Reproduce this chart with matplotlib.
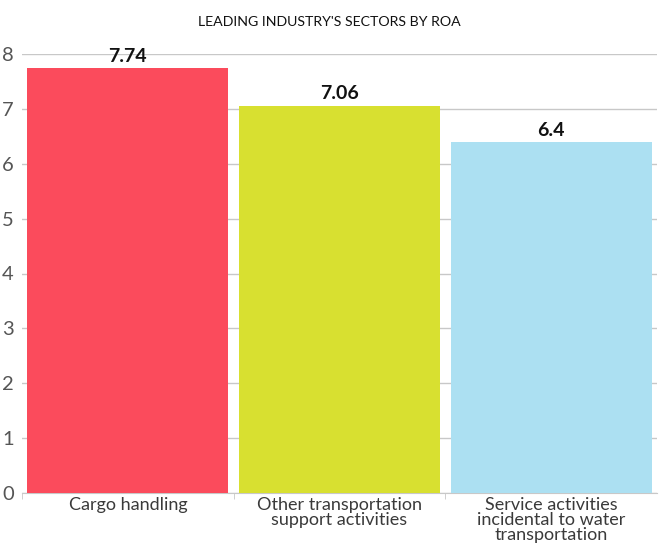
import matplotlib
matplotlib.use("Agg")
import matplotlib.pyplot as plt
import numpy as np

categories = ["Cargo handling",
              "Other transportation\nsupport activities",
              "Service activities\nincidental to water\ntransportation"]
roa = [7.74, 7.06, 6.4]
value_labels = ["7.74", "7.06", "6.4"]
colors = ["#fb4b5c", "#d8e030", "#ace0f2"]
yticks = [0, 1, 2, 3, 4, 5, 6, 7, 8]

plt.rcParams["font.family"] = ["Lato", "DejaVu Sans"]

fig = plt.figure(figsize=(6.59, 5.49), dpi=100)
ax = fig.add_axes((22 / 659, 1 - 493 / 549, 635 / 659, 439 / 549))

x = np.arange(len(categories))
ax.bar(x, roa, width=0.95, color=colors, zorder=3)
for xi, v, lab in zip(x, roa, value_labels):
    ax.text(xi, v + 0.06, lab, ha="center", va="bottom", fontsize=14,
            fontweight="bold", color="#111111", zorder=4, clip_on=False)

ax.set_xlim(-0.5, len(categories) - 0.5)
ax.set_ylim(0, 8)
ax.set_yticks(yticks)
ax.set_yticklabels([str(t) for t in yticks], fontsize=14.5, color="#555555")
ax.yaxis.grid(True, color="#c8c8c8", linewidth=1, zorder=0)
ax.tick_params(axis="y", length=0, pad=6)

ax.set_xticks(x)
ax.set_xticklabels(categories, fontsize=13, color="#3a3a3a", linespacing=0.92)
ax.set_xticks([-0.5, 0.5, 1.5], minor=True)
ax.tick_params(axis="x", which="major", length=0, pad=3)
ax.tick_params(axis="x", which="minor", length=4, color="#c8c8c8")

for s in ["top", "right", "left"]:
    ax.spines[s].set_visible(False)
ax.spines["bottom"].set_color("#c8c8c8")

fig.text(0.5, 1 - 22 / 549, "LEADING INDUSTRY'S SECTORS BY ROA", ha="center",
         va="center", fontsize=10.2, color="#111111")

fig.savefig("out.png", dpi=100)
